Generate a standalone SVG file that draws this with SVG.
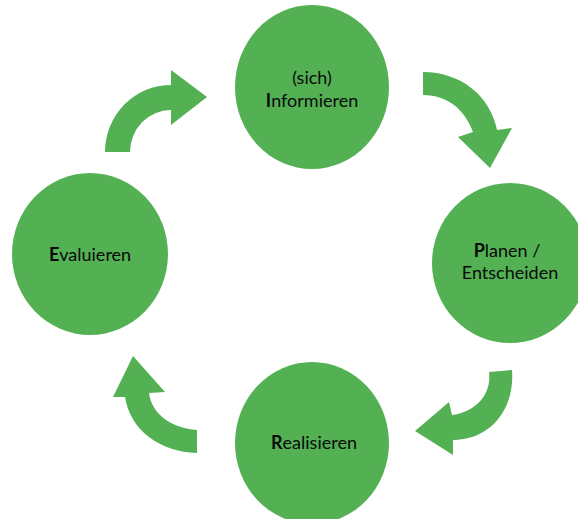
<svg xmlns="http://www.w3.org/2000/svg" width="578" height="519" viewBox="0 0 578 519">
<style>
.node{fill:#53b154}
.arrow{fill:#53b154}
.lbl{font-family:Lato,"Liberation Sans",sans-serif;font-size:18px;fill:#0a0a0a;text-anchor:middle}
.b{font-weight:bold}
</style>
<rect width="578" height="519" fill="#ffffff"/>
<g id="connectors">
<path class="arrow" d="M105,152 A66,67 0 0 1 171,85 L171,70 L207,97 L171,125 L171,110 A41,42 0 0 0 130,152 Z"/>
<path class="arrow" d="M423,72 C460,72 490,95 497,130 L512,128 L490,168 L458,137 L473,132 C465,110 448,95 423,95 Z"/>
<path class="arrow" d="M489,372 L512,370 C515,410 490,440 453,440 L453,455 L415,431 L449,402 L452,415 C475,412 492,395 489,372 Z"/>
<path class="arrow" d="M197,453 C160,452 130,430 125,397 L113,397 L133,356 L165,392 L149,393 C152,415 172,428 197,430 Z"/>
</g>
<g id="informieren">
<ellipse class="node" cx="312" cy="87" rx="77" ry="82"/>
<text class="lbl" x="312" y="84">(sich)</text>
<text class="lbl" x="312" y="107"><tspan class="b">I</tspan>nformieren</text>
</g>
<g id="planen">
<ellipse class="node" cx="510" cy="263" rx="78" ry="80"/>
<text class="lbl" x="507" y="257"><tspan class="b">P</tspan>lanen /</text>
<text class="lbl" x="510" y="279">Entscheiden</text>
</g>
<g id="realisieren">
<ellipse class="node" cx="312" cy="443" rx="77" ry="81"/>
<text class="lbl" x="314" y="449"><tspan class="b">R</tspan>ealisieren</text>
</g>
<g id="evaluieren">
<ellipse class="node" cx="90" cy="254" rx="78" ry="81"/>
<text class="lbl" x="90" y="261"><tspan class="b">E</tspan>valuieren</text>
</g>
</svg>
